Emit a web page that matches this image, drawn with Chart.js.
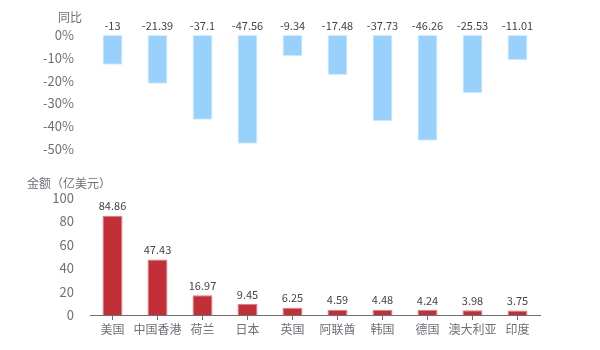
<!DOCTYPE html>
<html><head><meta charset="utf-8">
<script src="https://cdn.jsdelivr.net/npm/chart.js@4.4.1/dist/chart.umd.min.js"></script>
<style>
html,body{margin:0;padding:0;background:#fff;}
#wrap{position:relative;width:600px;height:350px;}
.box{position:absolute;left:0;width:600px;}
</style></head>
<body>
<div id="wrap">
  <div class="box" style="top:0;height:165px;"><canvas id="c1"></canvas></div>
  <div class="box" style="top:165px;height:185px;"><canvas id="c2"></canvas></div>
</div>
<script>
const categories = ['美国','中国香港','荷兰','日本','英国','阿联酋','韩国','德国','澳大利亚','印度'];
const yoyValues = [-13, -21.39, -37.1, -47.56, -9.34, -17.48, -37.73, -46.26, -25.53, -11.01];
const amountValues = [84.86, 47.43, 16.97, 9.45, 6.25, 4.59, 4.48, 4.24, 3.98, 3.75];
const yoyTicks = [0, -10, -20, -30, -40, -50];
const amountTicks = [0, 20, 40, 60, 80, 100];
const yoyTitle = '同比';
const amountTitle = '金额（亿美元）';

const FONT = '"Noto Sans CJK SC", "Noto Sans", sans-serif';
const AXIS_COLOR = '#6e7079';

function labelPlugin(mode, title) {
  return {
    id: 'labels_' + mode,
    afterDatasetsDraw(chart) {
      const ctx = chart.ctx;
      const meta = chart.getDatasetMeta(0);
      const ys = chart.scales.y;
      ctx.save();
      ctx.font = '11px ' + FONT;
      ctx.fillStyle = '#444';
      ctx.textAlign = 'center';
      ctx.textBaseline = 'bottom';
      meta.data.forEach((bar, i) => {
        const v = chart.data.datasets[0].data[i];
        const y = mode === 'top' ? ys.getPixelForValue(0) - 4 : bar.y - 4;
        ctx.fillText(String(v), bar.x, y);
      });
      ctx.font = '12px ' + FONT;
      ctx.fillStyle = AXIS_COLOR;
      ctx.textBaseline = 'middle';
      if (mode === 'top') {
        ctx.textAlign = 'right';
        ctx.fillText(title, 82, 17);
      } else {
        ctx.textAlign = 'left';
        ctx.fillText(title, 27, 18);
      }
      ctx.restore();
    }
  };
}

Chart.defaults.font.family = FONT;
Chart.defaults.animation = false;

new Chart(document.getElementById('c1'), {
  type: 'bar',
  data: {
    labels: categories,
    datasets: [{
      data: yoyValues,
      backgroundColor: '#99d1fd',
      borderColor: '#d4ecfe',
      borderWidth: 1,
      borderSkipped: false,
      barPercentage: 0.444,
      categoryPercentage: 1
    }]
  },
  options: {
    responsive: true,
    maintainAspectRatio: false,
    layout: { padding: { top: 35, bottom: 15, left: 0, right: 60 } },
    plugins: { legend: { display: false }, tooltip: { enabled: false } },
    scales: {
      x: { display: false, offset: true },
      y: {
        min: -50, max: 0,
        afterFit(s) { s.width = 90; },
        afterBuildTicks(s) { s.ticks = yoyTicks.map(v => ({ value: v })); },
        grid: { display: false },
        border: { display: false },
        ticks: {
          padding: 8,
          color: AXIS_COLOR,
          font: { size: 13 },
          callback: v => v + '%'
        }
      }
    }
  },
  plugins: [labelPlugin('top', yoyTitle)]
});

new Chart(document.getElementById('c2'), {
  type: 'bar',
  data: {
    labels: categories,
    datasets: [{
      data: amountValues,
      backgroundColor: '#c22f37',
      borderColor: '#e07f84',
      borderWidth: 1,
      borderSkipped: 'bottom',
      barPercentage: 0.444,
      categoryPercentage: 1
    }]
  },
  options: {
    responsive: true,
    maintainAspectRatio: false,
    layout: { padding: { top: 33, bottom: 5, left: 0, right: 60 } },
    plugins: { legend: { display: false }, tooltip: { enabled: false } },
    scales: {
      x: {
        offset: true,
        afterFit(s) { s.height = 30; },
        grid: { display: true, drawOnChartArea: false, offset: false, tickLength: 5, color: AXIS_COLOR },
        border: { display: true, color: AXIS_COLOR, width: 1 },
        ticks: { padding: 2, color: AXIS_COLOR, font: { size: 12 }, maxRotation: 0, autoSkip: false }
      },
      y: {
        min: 0, max: 100,
        afterFit(s) { s.width = 90; },
        afterBuildTicks(s) { s.ticks = amountTicks.map(v => ({ value: v })); },
        grid: { display: false },
        border: { display: false },
        ticks: { padding: 8, color: AXIS_COLOR, font: { size: 13 } }
      }
    }
  },
  plugins: [labelPlugin('bottom', amountTitle)]
});
</script>
</body></html>
